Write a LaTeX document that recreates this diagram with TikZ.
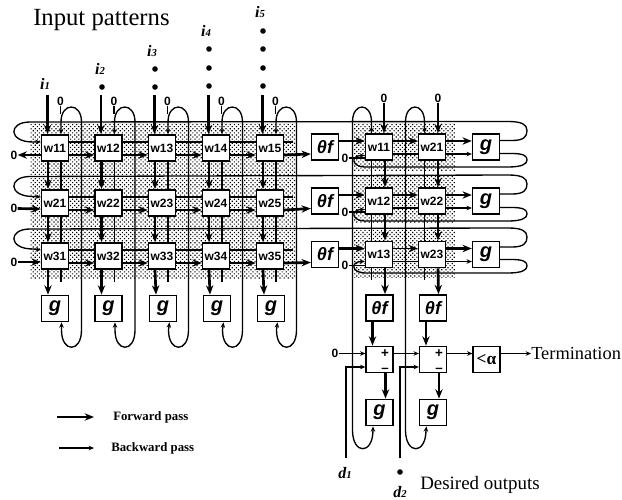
\documentclass[tikz,border=0pt]{standalone}
\usepackage{fontspec}
\setmainfont{Liberation Serif}
\setsansfont{Liberation Sans}
\usetikzlibrary{arrows.meta,calc,patterns.meta}
\tikzset{
  thk/.style={line width=2pt,-{Stealth[length=7pt,width=5.5pt]}},
  thn/.style={line width=1pt,-{Stealth[length=4pt,width=3.4pt]}},
  thnplain/.style={line width=1pt},
  thnboth/.style={line width=1pt,{Stealth[length=4pt,width=3.4pt]}-{Stealth[length=4pt,width=3.4pt]}},
  cell/.style={draw,line width=1.2pt,fill=white,inner sep=0pt,minimum width=20pt,minimum height=19.6pt,font=\sffamily\bfseries\fontsize{9}{9}\selectfont},
  gbox/.style={cell,font=\sffamily\bfseries\itshape\fontsize{15}{15}\selectfont},
  tbox/.style={cell,font=\sffamily\bfseries\itshape\fontsize{13.5}{14}\selectfont},
  zero/.style={inner sep=0pt,font=\sffamily\bfseries\fontsize{9}{9}\selectfont},
  inlab/.style={inner sep=0pt,font=\rmfamily\bfseries\itshape\fontsize{12}{12}\selectfont},
  dotn/.style={circle,fill=black,inner sep=0pt,minimum size=4.2pt},
  stip/.style={pattern={Dots[radius=0.62pt,distance=2.2pt,angle=45]},pattern color=black},
  big/.style={inner sep=0pt,anchor=west},
  pm/.style={inner sep=0pt,font=\sffamily\bfseries\fontsize{10}{6}\selectfont,text height=5pt,text depth=0pt}
}
\newcommand{\subn}[1]{{\fontsize{8}{8}\selectfont #1}}
\begin{document}
\begin{tikzpicture}[x=0.75pt,y=-0.75pt]
\useasboundingbox (0,0) rectangle (622,500);
% stipple
\fill[stip] (30,123) rectangle (295,174);
\fill[stip] (30,178) rectangle (295,226);
\fill[stip] (30,229) rectangle (295,278);
\fill[stip] (352,123) rectangle (455,170);
\fill[stip] (352,175) rectangle (455,222);
\fill[stip] (352,228) rectangle (455,277);
% left matrix
\foreach \r/\ry in {1/148,2/203,3/256}
  \foreach \c/\cx in {1/55,2/108.5,3/162,4/216,5/270}
    \node[cell] (L\r\c) at (\cx,\ry) {w\r\c};
\foreach \c/\cx in {1/55,2/108.5,3/163,4/217,5/271}
  \node[gbox] (G\c) at (\cx,308.5) {g};
% right matrix
\foreach \r/\ry in {1/147,2/201,3/254.5} {
  \node[cell] (RA\r) at (379,\ry) {w1\r};
  \node[cell] (RB\r) at (432,\ry) {w2\r};
  \node[gbox] (Q\r) at (486,\ry) {g};
  \node[tbox] (S\r) at (325,\ry) {θf};
  \node[zero] (ZL\r) at (345,\ry+11) {0};
}
\node[tbox] (TA) at (379.5,308) {θf};
\node[tbox] (TB) at (433,308) {θf};
\node[cell] (PA) at (379.5,359.5) {};
\node[cell] (PB) at (433,359.5) {};
\node[gbox] (HA) at (379.5,412.5) {g};
\node[gbox] (HB) at (433,412.5) {g};
\node[cell,font=\rmfamily\bfseries\fontsize{13}{13}\selectfont] (AL) at (486.5,359.5) {<α};
\node[pm] (plA) at (385,354) {+};
\node[pm] (miA) at (385,369) {--};
\node[pm] (plB) at (439,354) {+};
\node[pm] (miB) at (439,369) {--};
% texts
\node[big,font=\rmfamily\fontsize{18.5}{18.5}\selectfont] (title) at (33,20) {Input patterns};
\node[big,font=\rmfamily\fontsize{13.8}{14}\selectfont] (term) at (531,353.5) {Termination};
\node[big,font=\rmfamily\fontsize{14.2}{14}\selectfont] (des) at (420,485) {Desired outputs};
\node[big,font=\rmfamily\bfseries\fontsize{9.6}{10}\selectfont] (fw) at (113,417) {Forward pass};
\node[big,font=\rmfamily\bfseries\fontsize{9.6}{10}\selectfont] (bw) at (111,448) {Backward pass};
\coordinate (fa) at (57,417); \coordinate (ba) at (59,448);
\draw[thk] (fa) -- ($(fw.west)+(-19,0)$);
\draw[thn] (ba) -- ($(bw.west)+(-17,0)$);
% input labels and dots
\node[inlab] (I1) at (45,84) {i\subn{1}};
\node[inlab] (I2) at (100,69) {i\subn{2}};
\node[inlab] (I3) at (152,51) {i\subn{3}};
\node[inlab] (I4) at (206,31) {i\subn{4}};
\node[inlab] (I5) at (260,12) {i\subn{5}};
\node[dotn] (D21) at (102,87) {};
\node[dotn] (D31) at (155,69) {}; \node[dotn] (D32) at (155,87) {};
\node[dotn] (D41) at (209,49) {}; \node[dotn] (D42) at (209,68) {}; \node[dotn] (D43) at (209,86) {};
\node[dotn] (D51) at (263,31) {}; \node[dotn] (D52) at (263,49) {}; \node[dotn] (D53) at (263,68) {}; \node[dotn] (D54) at (263,86) {};
% columns of the left matrix
\foreach \c/\cx in {1/55,2/108.5,3/162,4/216,5/270} {
  \coordinate (IN\c) at (\cx-7.5,95);
  \draw[thk] (IN\c) -- ($(L1\c.north)+(-7.5,0)$);
  \node[zero] (ZT\c) at (\cx+5.5,101) {0};
  \draw[thnboth] ($(G\c.south)+(6.5,0)$) -- (\cx+6.5,330)
     .. controls (\cx+6.5,353) and (\cx+26.5,353) .. (\cx+26.5,330)
     -- (\cx+26.5,122)
     .. controls (\cx+26.5,102) and (\cx+6,102) .. (\cx+6,122)
     -- ($(L1\c.north)+(6,0)$);
  \draw[thk] ($(L3\c.south)+(-7,0)$) -- ($(G\c.north)+(-7,0)$);
  \coordinate (ST\c) at (\cx+6,282);
  \draw[thnplain] ($(L3\c.south)+(6,0)$) -- (ST\c);
  \draw[thk] ($(L1\c.south)+(-7,0)$) -- ($(L2\c.north)+(-7,0)$);
  \draw[thk] ($(L2\c.south)+(-7,0)$) -- ($(L3\c.north)+(-7,0)$);
  \draw[thnplain] ($(L1\c.south)+(6,0)$) -- ($(L2\c.north)+(6,0)$);
  \draw[thnplain] ($(L2\c.south)+(6,0)$) -- ($(L3\c.north)+(6,0)$);
  \draw[thnplain] (ZT\c.south) -- ++(0,8);
}
% rows of the left matrix
\foreach \r in {1,2,3} {
  \foreach \a/\b in {1/2,2/3,3/4,4/5} {
    \draw[thk] ($(L\r\a.east)+(0,7)$) -- ($(L\r\b.west)+(0,7)$);
    \draw[thnplain] ($(L\r\a.east)+(0,-6)$) -- ($(L\r\b.west)+(0,-6)$);
  }
  \draw[thk] ($(L\r5.east)+(0,7)$) -- ($(S\r.west)+(0,\r*0.5+6.5)$);
  \coordinate (SB\r) at ($(L\r5.east)+(0,-6)$);
  \draw[thnplain] (SB\r) -- ++(9,0);
}
\node[zero] (Z1a) at (14,155) {0};
\node[zero] (Z2a) at (14,208.5) {0};
\node[zero] (Z3a) at (14,262) {0};
\draw[thk] ($(L11.west)+(0,7)$) -- (Z1a.east);
\draw[thk] (Z2a.east) -- ($(L21.west)+(0,6)$);
\draw[thk] (Z3a.east) -- ($(L31.west)+(0,6)$);
% long backward loops
\foreach \r/\yt/\yl/\yb in {1/121.5/122/167,2/175/176.5/221,3/228/229/273} {
  \draw[thn] (Q\r.east|-0,\yt+19) -- (512,\yt+19)
    .. controls (524,\yt+19) and (527,\yt+15) .. (527,\yt+9)
    .. controls (527,\yt+3) and (522,\yt) .. (508,\yt)
    -- (30,\yl)
    .. controls (8,\yl) and (8,\yl+20) .. (33,\yl+20)
    -- ($(L\r1.west)+(0,-6)$);
  \draw[thn] (Q\r.east|-0,\yb-13.5) -- (512,\yb-13.5)
    .. controls (524,\yb-13.5) and (527,\yb-11) .. (527,\yb-7)
    .. controls (527,\yb-3) and (522,\yb) .. (508,\yb)
    -- (365,\yb)
    .. controls (352,\yb) and (350,\yb-11) .. (361,\yb-11.5)
    -- (RA\r.west|-0,\yb-11.5);
  \draw[thnplain] (ZL\r.east) -- (RA\r.west|-ZL\r.east);
  \draw[thk] ($(S\r.east)+(0,-6)$) -- ($(RA\r.west)+(0,-6)$);
  \draw[thk,line width=1.4pt] ($(RA\r.east)+(0,-6)$) -- ($(RB\r.west)+(0,-6)$);
  \draw[thk] ($(RB\r.east)+(0,-6)$) -- ($(Q\r.west)+(0,-6)$);
  \draw[thnplain] ($(RA\r.east)+(0,7)$) -- ($(RB\r.west)+(0,7)$);
  \draw[thn] ($(RB\r.east)+(0,7)$) -- ($(Q\r.west)+(0,7)$);
}
% columns of the right matrix
\node[zero] (ZA) at (384,98) {0};
\node[zero] (ZB) at (438,98) {0};
\draw[thk] (ZA.south) -- ($(RA1.north)+(5,0)$);
\draw[thk] (ZB.south) -- ($(RB1.north)+(6,0)$);
\foreach \n/\off in {A/0,B/53} {
  \draw[thk] ($(R\n1.south)+(6,0)$) -- ($(R\n2.north)+(6,0)$);
  \draw[thk] ($(R\n2.south)+(6,0)$) -- ($(R\n3.north)+(6,0)$);
  \draw[thk] ($(R\n3.south)+(6,0)$) -- ($(T\n.north)+(5.5,0)$);
  \draw[thnplain] ($(R\n1.south)+(-7.5,0)$) -- ($(R\n2.north)+(-7.5,0)$);
  \draw[thnplain] ($(R\n2.south)+(-7.5,0)$) -- ($(R\n3.north)+(-7.5,0)$);
  \coordinate (RS\n) at (371.5+\off,280);
  \draw[thnplain] ($(R\n3.south)+(-7.5,0)$) -- (RS\n);
  \draw[thk] ($(T\n.south)+(-7,0)$) -- ($(P\n.north)+(-7,0)$);
  \draw[thk] ($(P\n.south)+(6,0)$) -- ($(H\n.north)+(6,0)$);
  \draw[thnboth] ($(H\n.south)+(-6.5,0)$) -- (373+\off,430)
    .. controls (373+\off,455) and (352.5+\off,455) .. (352.5+\off,430)
    -- (352.5+\off,122)
    .. controls (352.5+\off,102) and (371.5+\off,102) .. (371.5+\off,122)
    -- ($(R\n1.north)+(-7.5,0)$);
}
% error stage
\node[zero] (ZP) at (335,353.5) {0};
\draw[thn] (ZP.east) -- (PA.west|-ZP.east);
\draw[thn] ($(PA.east)+(0,-6)$) -- ($(PB.west)+(0,-6)$);
\draw[thn] ($(PB.east)+(0,-6)$) -- ($(AL.west)+(0,-6)$);
\draw[thn] ($(AL.east)+(0,-6)$) -- (term.west);
\coordinate (dA) at (346,458);
\node[dotn] (dotB) at (400,472) {};
\coordinate (dB) at (400,458);
\draw[thn] (dA) |- ($(PA.west)+(0,7.5)$);
\draw[thn] (dB) |- ($(PB.west)+(0,7.5)$);
\node[inlab] (dlA) at (345,473) {d\subn{1}};
\node[inlab] (dlB) at (400,492) {d\subn{2}};
\end{tikzpicture}
\end{document}
